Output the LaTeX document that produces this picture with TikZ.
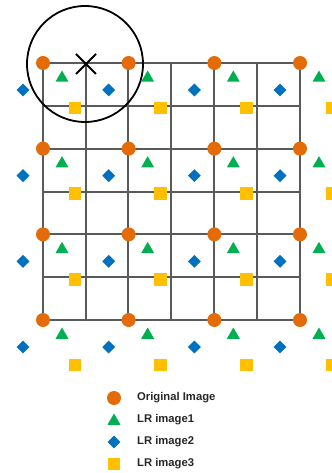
\documentclass[tikz,border=0pt]{standalone}
\usepackage{fontspec}
\setmainfont{Liberation Sans}
\usetikzlibrary{shapes.geometric}
\definecolor{origc}{HTML}{E36C09}
\definecolor{lronec}{HTML}{00B050}
\definecolor{lrtwoc}{HTML}{0070C0}
\definecolor{lrthreec}{HTML}{FFC000}
\definecolor{gridc}{HTML}{5A5A5A}
\tikzset{
  origmark/.style={circle,fill=origc,inner sep=0,minimum size=14bp},
  tri/.style={regular polygon,regular polygon sides=3,fill=lronec,inner sep=0,minimum size=15bp},
  dia/.style={diamond,fill=lrtwoc,inner sep=0,minimum width=13bp,minimum height=13bp},
  sq/.style={rectangle,fill=lrthreec,inner sep=0,minimum size=12.5bp},
  gridline/.style={draw=gridc,line width=2bp},
  legtext/.style={anchor=west,font=\fontsize{11.3}{13}\selectfont\bfseries,text=black!85,inner sep=0}
}
\begin{document}
\begin{tikzpicture}[x=1bp,y=-1bp]
\useasboundingbox (0,0) rectangle (331,473);
% grid
\foreach \p in {43,86,128,171,214,257,300}{
  \draw[gridline] (\p,63) -- (\p,320);
}
\foreach \p in {63,106,149,192,234,277,320}{
  \draw[gridline] (43,\p) -- (300,\p);
}
% markers
\foreach \i in {0,...,3}{
  \foreach \j in {0,...,3}{
    \pgfmathsetmacro{\cx}{43+85.667*\i}
    \pgfmathsetmacro{\cy}{63+85.667*\j}
    \node[dia] (d-\i-\j) at (\cx-20,\cy+27) {};
    \node[sq] (s-\i-\j) at (\cx+32,\cy+45) {};
    \node[tri] (t-\i-\j) at (\cx+19,\cy+15) {};
    \node[origmark] (o-\i-\j) at (\cx,\cy) {};
  }
}
% big circle and cross
\node[draw=black,line width=1.8bp,circle,minimum size=116bp,inner sep=0] (bigc) at (85,64) {};
\coordinate (xc) at (86,64);
\draw[line width=1.8bp] ([shift={(-10,-10)}]xc) -- ([shift={(10,10)}]xc)
                       ([shift={(-10,10)}]xc) -- ([shift={(10,-10)}]xc);
% legend
\node[origmark] (lo) at (114,398) {};
\node[tri] (lt) at (114,421) {};
\node[dia] (ld) at (114,442) {};
\node[sq] (ls) at (114,464) {};
\node[legtext] (llo) at (137,398) {Original Image};
\node[legtext] (llt) at (137,420) {LR image1};
\node[legtext] (lld) at (137,442) {LR image2};
\node[legtext] (lls) at (137,464) {LR image3};
\end{tikzpicture}
\end{document}
